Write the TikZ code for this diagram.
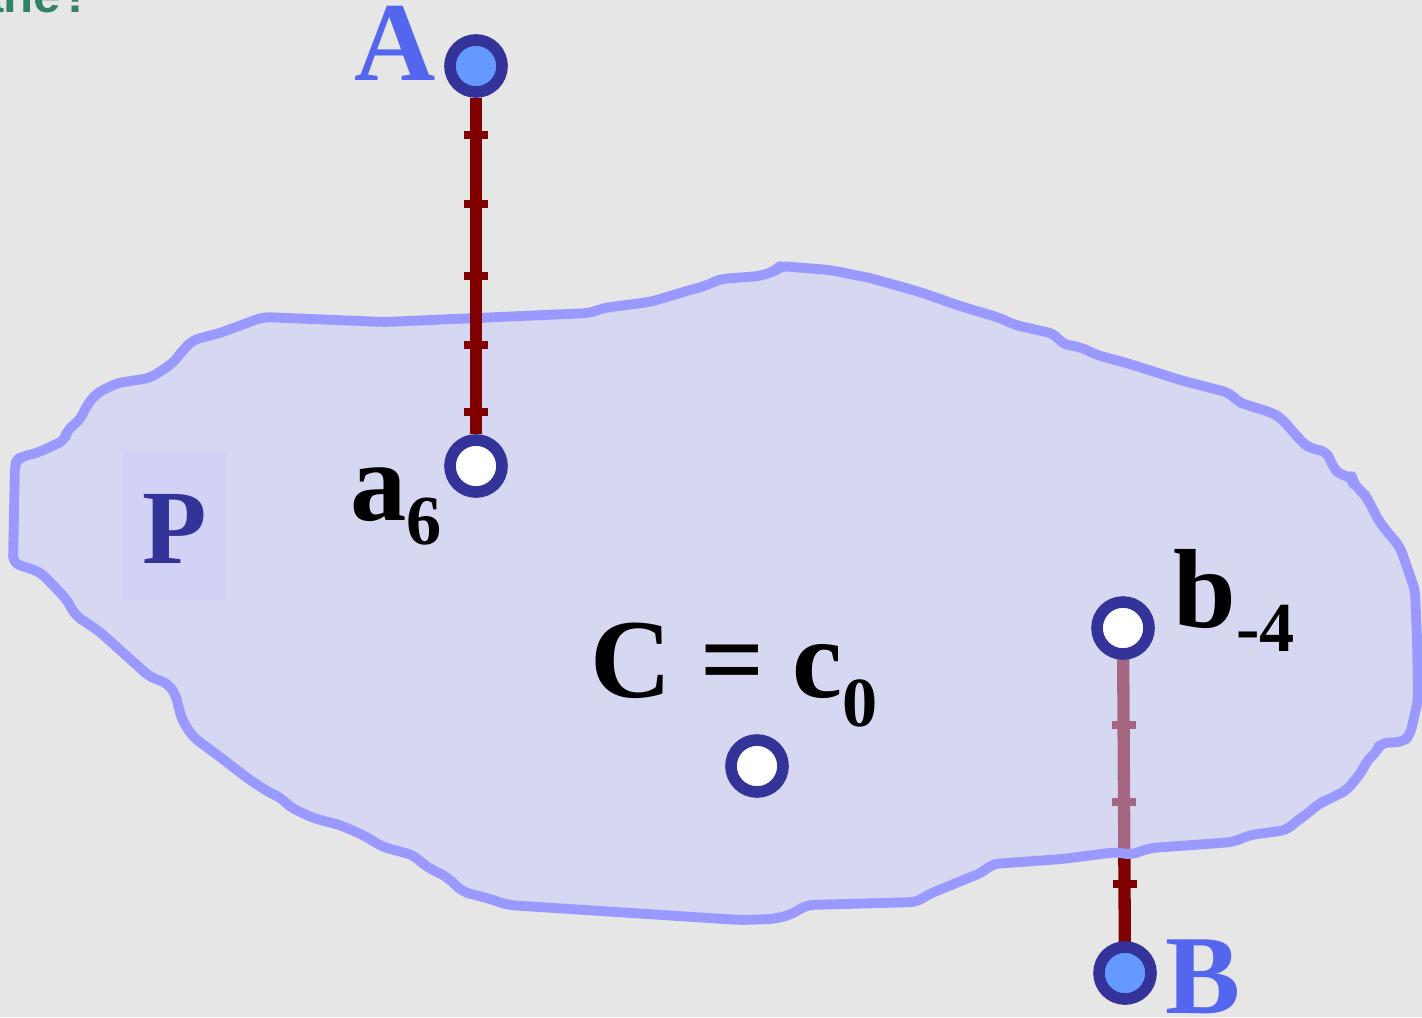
\documentclass[tikz,border=0pt]{standalone}
\usepackage{fontspec}
\setmainfont{Liberation Serif}
\setsansfont{Liberation Sans}
\usetikzlibrary{calc}
\definecolor{slidegray}{RGB}{230,230,230}
\definecolor{planefill}{RGB}{200,204,255}
\definecolor{planeedge}{RGB}{153,153,255}
\definecolor{boxfill}{RGB}{210,210,246}
\definecolor{ringblue}{RGB}{51,51,153}
\definecolor{ptblue}{RGB}{102,153,255}
\definecolor{segred}{RGB}{128,0,0}
\definecolor{lblblue}{RGB}{85,102,238}
\definecolor{titlegreen}{RGB}{50,130,100}
\newcommand{\lowsub}[2][7pt]{\raisebox{-#1}{\fontsize{20}{20}\selectfont #2}}

\begin{document}
\begin{tikzpicture}[x=0.01cm, y=-0.01cm]
        \tikzstyle{ring}=[circle, draw=ringblue, line width=3.3pt, minimum size=0.52cm, inner sep=0pt]
        \tikzstyle{endpt}=[ring, fill=ptblue]
        \tikzstyle{hollow}=[ring, fill=white]
        \tikzstyle{seg}=[draw=segred, line width=3.5pt]
        \tikzstyle{tick}=[draw=segred, line width=2.2pt]
        \tikzstyle{lbl}=[inner sep=0pt, font=\fontsize{32}{32}\selectfont\bfseries]

        \fill[slidegray] (0,0) rectangle (1422,1017);
        \useasboundingbox (0,0) rectangle (1422,1017);

        \node[anchor=base east, inner sep=0pt, text=titlegreen, font=\fontsize{14}{14}\selectfont\sffamily\bfseries] (title) at (92,12) {plane?};

        \coordinate (bpos) at (1123,628);
        \coordinate (Bpos) at (1125,973);
        \draw[seg] (bpos) -- (Bpos);
        \foreach \p in {0.281,0.504,0.742}
            \draw[tick] ($(bpos)!\p!(Bpos)$) +(-12,0) -- +(12,0);

        \draw[draw=planeedge, line width=2.8pt, line join=round, rounded corners=2pt, fill=planefill, fill opacity=0.5]
            (263,317) -- (385,322) -- (590,313) -- (600,309) -- (610,307) -- (650,302) -- (690,290) -- (705,286)
            -- (720,279) -- (760,276) -- (775,271) -- (780,266) -- (830,270) -- (870,278) -- (920,292) -- (960,306)
            -- (1000,318) -- (1015,325) -- (1055,334) -- (1062,344) -- (1080,347) -- (1097,355) -- (1130,364)
            -- (1180,380) -- (1230,393) -- (1238,402) -- (1247,405) -- (1270,412) -- (1280,417) -- (1303,443)
            -- (1310,448) -- (1327,452) -- (1333,467) -- (1340,475) -- (1352,477) -- (1353,483) -- (1365,495)
            -- (1368,500) -- (1380,523) -- (1400,547) -- (1415,590) -- (1417,640) -- (1418,700) -- (1410,735)
            -- (1403,742) -- (1380,743) -- (1377,752) -- (1367,760) -- (1363,770) -- (1347,790) -- (1327,800)
            -- (1320,803) -- (1303,817) -- (1295,822) -- (1287,830) -- (1250,835) -- (1233,842) -- (1193,845)
            -- (1150,848) -- (1130,855) -- (1117,852) -- (1062,859) -- (992,864) -- (983,872) -- (927,895)
            -- (917,902) -- (807,905) -- (790,915) -- (773,919) -- (740,920) -- (508,905) -- (487,898)
            -- (463,892) -- (447,877) -- (427,867) -- (413,855) -- (383,847) -- (363,835) -- (340,825)
            -- (313,818) -- (290,807) -- (280,797) -- (270,793) -- (250,780) -- (233,767) -- (220,757)
            -- (193,737) -- (182,720) -- (175,693) -- (167,683) -- (150,677) -- (100,632) -- (75,615)
            -- (67,600) -- (53,585) -- (40,572) -- (13,563) -- (15,463) -- (20,457) -- (37,453) -- (65,440)
            -- (67,430) -- (80,420) -- (87,405) -- (97,393) -- (117,383) -- (150,378) -- (173,363)
            -- (183,350) -- (193,340) -- (220,333) -- cycle;

        \node[fill=boxfill, minimum width=1.04cm, minimum height=1.5cm, inner sep=0pt] (pbox) at (174,525) {};
        \node[lbl, anchor=base, text=ringblue, font=\fontsize{30}{30}\selectfont\bfseries] (P) at (175,563) {P};

        \node[endpt] (A) at (476,66) {};
        \node[hollow] (a6) at (476,466) {};
        \draw[seg] (A) -- (a6);
        \foreach \p in {0.1725,0.345,0.525,0.6975,0.865}
            \draw[tick] ($(A)!\p!(a6)$) +(-12,0) -- +(12,0);

        \node[hollow] (c0) at (757,766) {};
        \node[hollow] (b4) at (bpos) {};
        \node[endpt] (B) at (Bpos) {};

        \node[lbl, anchor=base, text=lblblue] (Alabel) at (395,80) {A};
        \node[lbl, anchor=base, text=lblblue] (Blabel) at (1203,1013) {B};
        \node[lbl, anchor=base west] (a6label) at (350,520) {a\lowsub{6}};
        \node[lbl, anchor=base west] (c0label) at (590,697) {C = c\lowsub[8.5pt]{0}};
        \node[lbl, anchor=base west] (b4label) at (1173,627) {b\lowsub{-4}};
\end{tikzpicture}
\end{document}
